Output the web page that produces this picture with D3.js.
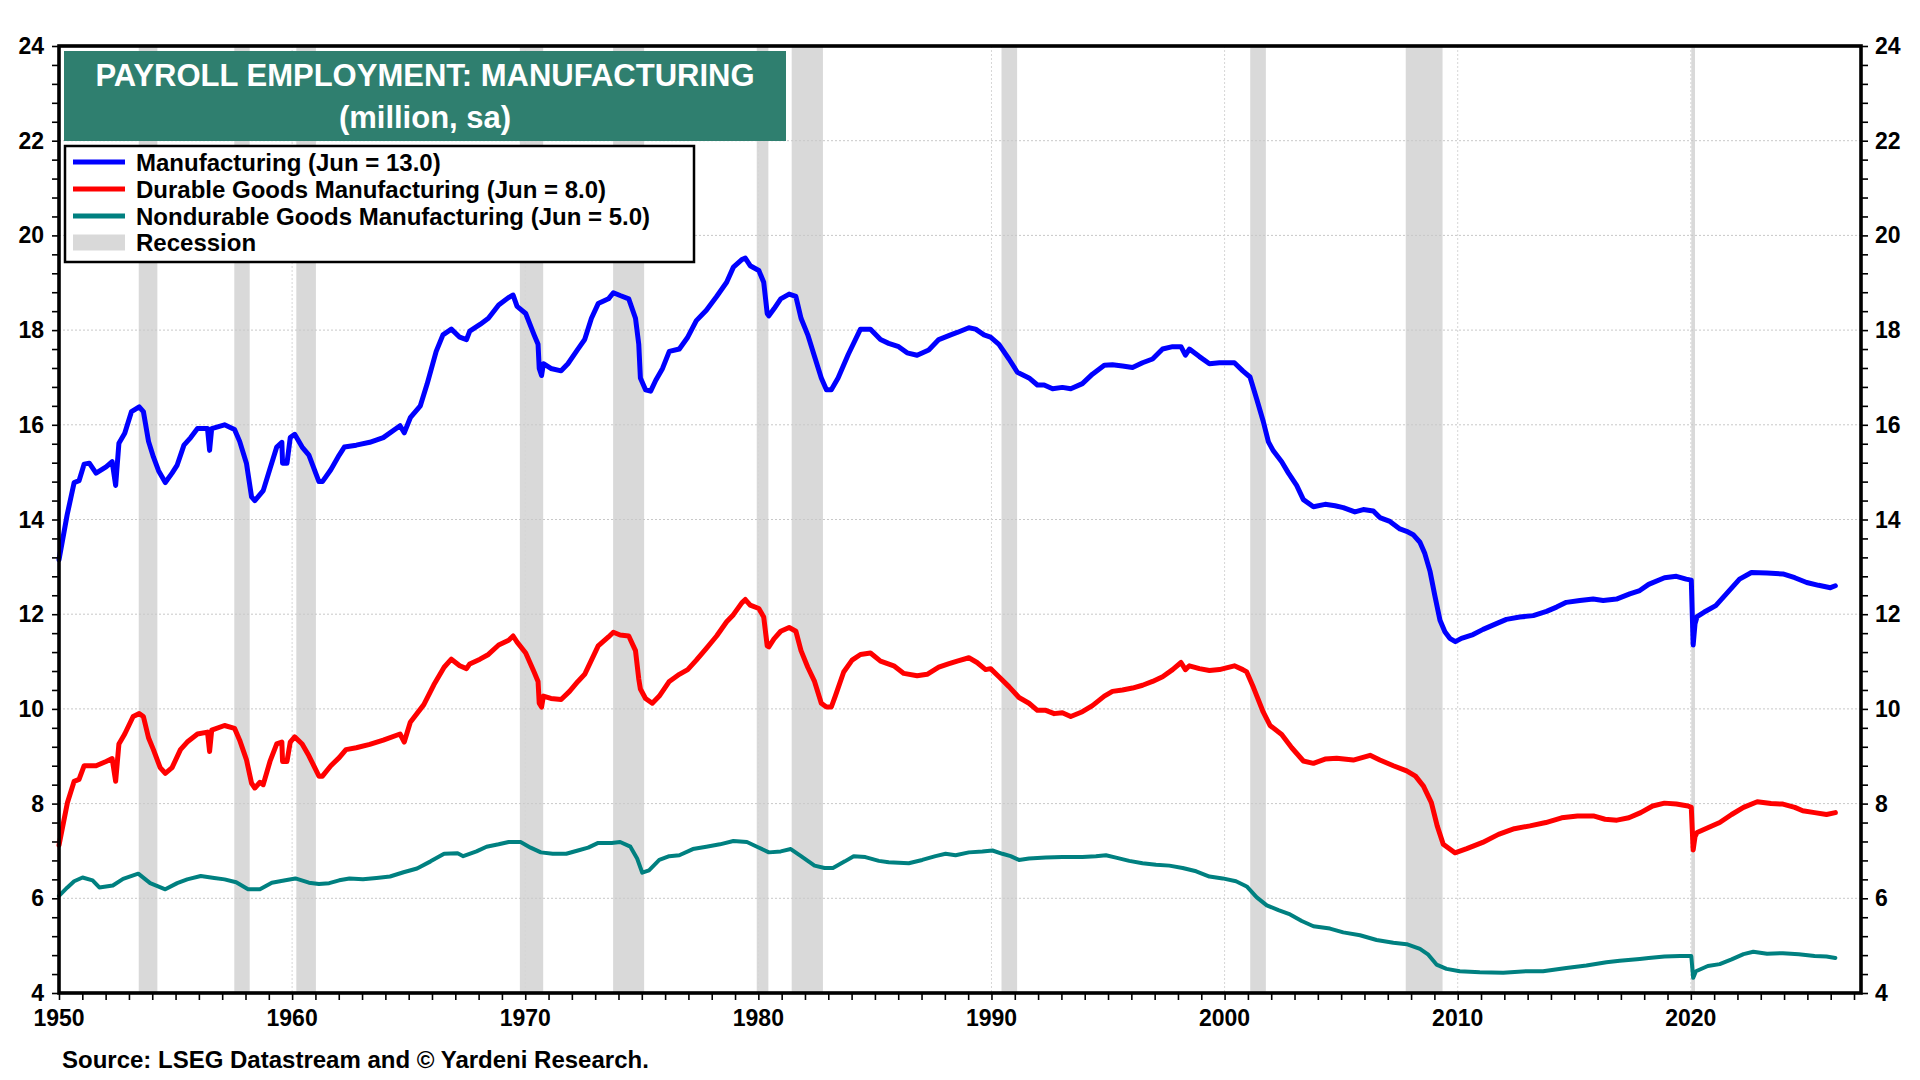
<!DOCTYPE html>
<html>
<head>
<meta charset="utf-8">
<script src="https://cdn.jsdelivr.net/npm/d3@7"></script>
<style>
  html, body { margin: 0; padding: 0; background: #fff; }
  svg { display: block; }
  text { font-family: "Liberation Sans", Arial, Helvetica, sans-serif; font-weight: bold; }
</style>
</head>
<body>
<svg id="chart" width="1920" height="1080"></svg>
<script>
// ---------------- DATA ----------------
const titleLines = ["PAYROLL EMPLOYMENT: MANUFACTURING", "(million, sa)"];
const legendLabels = [
  "Manufacturing (Jun = 13.0)",
  "Durable Goods Manufacturing (Jun = 8.0)",
  "Nondurable Goods Manufacturing (Jun = 5.0)",
  "Recession"
];
const sourceText = "Source: LSEG Datastream and \u00A9 Yardeni Research.";
const xTickYears = [1950, 1960, 1970, 1980, 1990, 2000, 2010, 2020];
const yTickValues = [4, 6, 8, 10, 12, 14, 16, 18, 20, 22, 24];

// Recession bands [start, end] as placed on the chart's time axis
const recessions = [
  [1953.42, 1954.22], [1957.52, 1958.18], [1960.18, 1961.02], [1969.77, 1970.77],
  [1973.77, 1975.1], [1979.93, 1980.43], [1981.43, 1982.77], [1990.43, 1991.1],
  [2001.1, 2001.77], [2007.77, 2009.35], [2020.02, 2020.18]
];

// Manufacturing, million [year, value]
const manufacturing = [
[1950.0,13.15],[1950.35,14.1],[1950.65,14.78],[1950.86,14.82],[1951.08,15.17],[1951.3,15.19],[1951.59,14.98],[1952.02,15.11],[1952.28,15.22],[1952.43,14.72],[1952.57,15.61],[1952.82,15.82],[1953.11,16.28],[1953.44,16.38],[1953.62,16.28],[1953.84,15.65],[1954.05,15.32],[1954.27,15.03],[1954.56,14.78],[1954.85,14.98],[1955.07,15.15],[1955.36,15.57],[1955.65,15.73],[1955.94,15.92],[1956.37,15.92],[1956.46,15.46],[1956.55,15.92],[1957.1,16.0],[1957.53,15.9],[1957.75,15.65],[1958.04,15.19],[1958.26,14.48],[1958.4,14.4],[1958.76,14.61],[1959.05,15.07],[1959.34,15.53],[1959.56,15.63],[1959.59,15.19],[1959.78,15.19],[1959.92,15.73],[1960.11,15.8],[1960.43,15.53],[1960.72,15.36],[1961.15,14.8],[1961.3,14.8],[1961.66,15.05],[1962.02,15.36],[1962.24,15.53],[1962.75,15.57],[1963.33,15.63],[1963.91,15.73],[1964.63,15.98],[1964.81,15.83],[1965.07,16.15],[1965.5,16.4],[1965.79,16.86],[1966.18,17.55],[1966.47,17.9],[1966.83,18.02],[1967.19,17.85],[1967.48,17.8],[1967.62,17.98],[1968.06,18.12],[1968.42,18.25],[1968.86,18.53],[1969.29,18.69],[1969.48,18.74],[1969.65,18.5],[1970.02,18.35],[1970.38,17.9],[1970.55,17.7],[1970.6,17.19],[1970.7,17.04],[1970.78,17.29],[1971.1,17.19],[1971.54,17.14],[1971.83,17.29],[1972.26,17.6],[1972.55,17.8],[1972.84,18.25],[1973.13,18.56],[1973.57,18.66],[1973.78,18.79],[1974.07,18.73],[1974.44,18.66],[1974.73,18.25],[1974.87,17.7],[1974.94,16.99],[1975.16,16.74],[1975.38,16.71],[1975.6,16.94],[1975.89,17.19],[1976.18,17.55],[1976.61,17.6],[1976.97,17.85],[1977.34,18.2],[1977.77,18.42],[1978.21,18.71],[1978.64,19.01],[1978.93,19.33],[1979.29,19.49],[1979.44,19.52],[1979.65,19.36],[1980.02,19.26],[1980.23,19.01],[1980.38,18.35],[1980.45,18.3],[1980.67,18.45],[1980.96,18.66],[1981.32,18.76],[1981.61,18.71],[1981.83,18.25],[1982.12,17.9],[1982.41,17.44],[1982.7,16.99],[1982.92,16.74],[1983.13,16.74],[1983.42,16.99],[1983.86,17.49],[1984.38,18.02],[1984.81,18.02],[1985.24,17.8],[1985.59,17.72],[1986.02,17.65],[1986.38,17.52],[1986.81,17.47],[1987.31,17.58],[1987.74,17.8],[1988.25,17.9],[1988.53,17.95],[1989.03,18.05],[1989.32,18.02],[1989.68,17.9],[1989.96,17.85],[1990.32,17.7],[1990.75,17.39],[1991.11,17.11],[1991.61,16.99],[1991.97,16.84],[1992.26,16.84],[1992.62,16.76],[1993.04,16.79],[1993.4,16.76],[1993.9,16.87],[1994.33,17.07],[1994.84,17.26],[1995.19,17.27],[1995.62,17.24],[1996.05,17.21],[1996.48,17.31],[1996.91,17.39],[1997.34,17.6],[1997.77,17.65],[1998.13,17.65],[1998.32,17.47],[1998.49,17.6],[1998.92,17.44],[1999.35,17.29],[1999.78,17.31],[2000.42,17.31],[2000.78,17.14],[2001.09,17.01],[2001.38,16.54],[2001.66,16.07],[2001.88,15.64],[2002.09,15.45],[2002.45,15.22],[2002.74,14.98],[2003.09,14.72],[2003.38,14.42],[2003.81,14.27],[2004.31,14.32],[2004.74,14.29],[2005.09,14.25],[2005.59,14.16],[2005.95,14.21],[2006.38,14.18],[2006.66,14.04],[2007.09,13.96],[2007.52,13.8],[2007.81,13.75],[2008.09,13.68],[2008.38,13.52],[2008.59,13.28],[2008.81,12.91],[2009.02,12.39],[2009.24,11.87],[2009.45,11.63],[2009.66,11.49],[2009.9,11.42],[2010.16,11.49],[2010.66,11.57],[2011.09,11.68],[2011.66,11.8],[2012.09,11.89],[2012.66,11.94],[2013.24,11.97],[2013.81,12.06],[2014.24,12.15],[2014.66,12.25],[2015.24,12.29],[2015.81,12.32],[2016.24,12.29],[2016.81,12.32],[2017.38,12.43],[2017.81,12.5],[2018.19,12.63],[2018.87,12.77],[2019.38,12.8],[2019.8,12.74],[2020.02,12.72],[2020.1,11.35],[2020.18,11.8],[2020.27,11.95],[2020.56,12.04],[2021.07,12.18],[2021.58,12.46],[2022.09,12.74],[2022.6,12.88],[2023.27,12.87],[2023.95,12.85],[2024.46,12.77],[2024.97,12.67],[2025.48,12.61],[2025.99,12.56],[2026.2,12.6]
];

// Durable goods manufacturing, million
const durable = [
[1950.0,7.12],[1950.36,8.02],[1950.65,8.47],[1950.86,8.51],[1951.08,8.8],[1951.59,8.8],[1952.02,8.89],[1952.28,8.95],[1952.43,8.47],[1952.57,9.26],[1952.82,9.47],[1953.18,9.84],[1953.44,9.9],[1953.62,9.84],[1953.84,9.39],[1954.05,9.14],[1954.34,8.76],[1954.56,8.64],[1954.85,8.76],[1955.21,9.14],[1955.5,9.3],[1955.94,9.47],[1956.37,9.51],[1956.46,9.1],[1956.55,9.55],[1957.1,9.65],[1957.53,9.59],[1957.75,9.34],[1958.04,8.93],[1958.26,8.43],[1958.4,8.33],[1958.62,8.45],[1958.76,8.4],[1959.05,8.89],[1959.34,9.26],[1959.56,9.3],[1959.59,8.89],[1959.78,8.89],[1959.92,9.3],[1960.11,9.41],[1960.43,9.26],[1960.72,9.01],[1961.15,8.58],[1961.3,8.58],[1961.66,8.8],[1962.02,8.97],[1962.31,9.14],[1962.75,9.18],[1963.33,9.25],[1963.91,9.34],[1964.63,9.47],[1964.81,9.3],[1965.07,9.72],[1965.65,10.09],[1966.08,10.51],[1966.52,10.88],[1966.83,11.05],[1967.19,10.91],[1967.48,10.85],[1967.62,10.95],[1968.06,11.05],[1968.42,11.15],[1968.86,11.35],[1969.29,11.45],[1969.48,11.54],[1969.65,11.41],[1970.02,11.18],[1970.38,10.78],[1970.55,10.58],[1970.6,10.12],[1970.7,10.04],[1970.78,10.27],[1971.1,10.22],[1971.54,10.2],[1971.9,10.37],[1972.26,10.58],[1972.55,10.73],[1972.84,11.03],[1973.13,11.33],[1973.57,11.52],[1973.78,11.62],[1974.07,11.56],[1974.44,11.54],[1974.73,11.23],[1974.87,10.63],[1974.94,10.42],[1975.16,10.22],[1975.45,10.12],[1975.75,10.27],[1976.18,10.58],[1976.61,10.73],[1976.97,10.83],[1977.34,11.03],[1977.77,11.28],[1978.21,11.54],[1978.64,11.84],[1978.93,11.99],[1979.29,12.24],[1979.44,12.31],[1979.65,12.19],[1980.02,12.12],[1980.23,11.94],[1980.38,11.33],[1980.45,11.31],[1980.67,11.48],[1980.96,11.64],[1981.32,11.72],[1981.61,11.64],[1981.83,11.23],[1982.12,10.88],[1982.41,10.58],[1982.7,10.12],[1982.92,10.04],[1983.13,10.04],[1983.3,10.27],[1983.66,10.78],[1984.02,11.03],[1984.38,11.15],[1984.81,11.18],[1985.24,11.01],[1985.81,10.91],[1986.24,10.75],[1986.81,10.7],[1987.24,10.73],[1987.74,10.88],[1988.15,10.95],[1988.53,11.01],[1989.03,11.08],[1989.38,10.98],[1989.75,10.83],[1989.96,10.85],[1990.32,10.68],[1990.75,10.47],[1991.18,10.24],[1991.61,10.12],[1991.97,9.97],[1992.33,9.97],[1992.69,9.9],[1993.04,9.92],[1993.4,9.84],[1993.9,9.94],[1994.33,10.07],[1994.84,10.27],[1995.19,10.37],[1995.62,10.4],[1996.05,10.44],[1996.48,10.5],[1996.91,10.58],[1997.34,10.68],[1997.77,10.83],[1998.13,10.98],[1998.32,10.83],[1998.49,10.91],[1998.92,10.85],[1999.35,10.81],[1999.78,10.83],[2000.42,10.91],[2000.78,10.83],[2000.95,10.78],[2001.24,10.45],[2001.66,9.93],[2001.95,9.65],[2002.45,9.46],[2002.88,9.18],[2003.38,8.9],[2003.81,8.85],[2004.31,8.94],[2004.81,8.96],[2005.52,8.92],[2006.24,9.02],[2006.66,8.92],[2007.24,8.8],[2007.81,8.69],[2008.19,8.58],[2008.53,8.37],[2008.87,8.02],[2009.12,7.53],[2009.38,7.14],[2009.88,6.96],[2010.39,7.05],[2011.07,7.18],[2011.75,7.35],[2012.43,7.47],[2013.1,7.53],[2013.78,7.6],[2014.46,7.7],[2015.14,7.74],[2015.82,7.74],[2016.32,7.67],[2016.83,7.65],[2017.34,7.7],[2017.85,7.81],[2018.36,7.95],[2018.87,8.01],[2019.38,7.99],[2019.88,7.95],[2020.02,7.92],[2020.1,7.02],[2020.18,7.3],[2020.27,7.39],[2020.73,7.49],[2021.24,7.6],[2021.75,7.77],[2022.26,7.92],[2022.85,8.04],[2023.44,8.0],[2023.95,7.99],[2024.46,7.92],[2024.8,7.85],[2025.31,7.81],[2025.82,7.77],[2026.2,7.81]
];

// Nondurable goods manufacturing, million
const nondurable = [
[1950.0,6.05],[1950.36,6.23],[1950.65,6.36],[1951.01,6.44],[1951.44,6.38],[1951.73,6.23],[1952.31,6.27],[1952.75,6.41],[1953.4,6.52],[1953.91,6.32],[1954.56,6.19],[1955.07,6.32],[1955.5,6.4],[1956.08,6.47],[1956.66,6.43],[1957.1,6.4],[1957.6,6.34],[1958.11,6.19],[1958.62,6.19],[1959.13,6.33],[1959.71,6.38],[1960.14,6.42],[1960.72,6.33],[1961.15,6.3],[1961.59,6.32],[1962.02,6.38],[1962.46,6.42],[1963.04,6.4],[1963.62,6.43],[1964.2,6.46],[1964.78,6.55],[1965.36,6.63],[1965.94,6.78],[1966.52,6.94],[1967.1,6.95],[1967.34,6.89],[1967.91,6.99],[1968.34,7.09],[1968.86,7.14],[1969.29,7.19],[1969.8,7.19],[1970.23,7.07],[1970.67,6.97],[1971.18,6.94],[1971.76,6.94],[1972.26,7.01],[1972.7,7.07],[1973.13,7.17],[1973.71,7.17],[1974.07,7.19],[1974.51,7.09],[1974.8,6.84],[1975.02,6.54],[1975.31,6.59],[1975.75,6.81],[1976.18,6.89],[1976.61,6.91],[1977.19,7.04],[1977.77,7.09],[1978.35,7.14],[1978.93,7.21],[1979.51,7.19],[1979.94,7.09],[1980.45,6.97],[1980.96,6.99],[1981.39,7.04],[1981.83,6.89],[1982.41,6.69],[1982.84,6.64],[1983.2,6.64],[1983.71,6.78],[1984.09,6.89],[1984.59,6.87],[1985.17,6.79],[1985.59,6.76],[1986.45,6.74],[1987.03,6.81],[1987.6,6.89],[1988.03,6.94],[1988.46,6.91],[1989.03,6.97],[1989.61,6.99],[1990.04,7.01],[1990.47,6.94],[1990.82,6.89],[1991.18,6.81],[1991.61,6.84],[1992.33,6.86],[1993.04,6.87],[1993.9,6.87],[1994.48,6.89],[1994.91,6.91],[1995.34,6.86],[1995.91,6.79],[1996.48,6.74],[1997.06,6.71],[1997.63,6.69],[1998.2,6.64],[1998.78,6.57],[1999.35,6.46],[1999.92,6.42],[2000.49,6.36],[2000.95,6.25],[2001.38,6.02],[2001.81,5.85],[2002.31,5.75],[2002.81,5.66],[2003.31,5.52],[2003.81,5.41],[2004.52,5.36],[2005.09,5.28],[2005.81,5.22],[2006.52,5.12],[2007.24,5.06],[2007.81,5.03],[2008.38,4.93],[2008.74,4.81],[2009.09,4.6],[2009.52,4.51],[2010.09,4.46],[2010.95,4.44],[2011.95,4.43],[2012.95,4.46],[2013.66,4.46],[2014.66,4.53],[2015.52,4.58],[2016.38,4.65],[2016.95,4.68],[2017.81,4.72],[2018.19,4.74],[2018.87,4.77],[2019.54,4.78],[2020.02,4.78],[2020.1,4.32],[2020.22,4.46],[2020.73,4.57],[2021.24,4.61],[2021.75,4.71],[2022.26,4.82],[2022.68,4.87],[2023.27,4.83],[2023.95,4.84],[2024.63,4.82],[2025.31,4.78],[2025.82,4.77],[2026.2,4.74]
];

const seriesColors = ["#0000ff", "#ff0000", "#008080"];

// ---------------- CHART ----------------
const svg = d3.select("#chart");
const plot = { left: 59, right: 1861, top: 46, bottom: 993 };

const x = d3.scaleLinear().domain([1950, 2027.3]).range([plot.left, plot.right]);
const y = d3.scaleLinear().domain([4, 24]).range([plot.bottom, plot.top]);

// Recession bands
svg.append("g").selectAll("rect").data(recessions).join("rect")
  .attr("x", d => x(d[0]))
  .attr("width", d => Math.max(2, x(d[1]) - x(d[0])))
  .attr("y", plot.top)
  .attr("height", plot.bottom - plot.top)
  .attr("fill", "#d9d9d9");

// Gridlines
const grid = svg.append("g");
grid.selectAll("line.h").data(yTickValues.filter(v => v > 4 && v < 24)).join("line")
  .attr("x1", plot.left).attr("x2", plot.right)
  .attr("y1", d => y(d)).attr("y2", d => y(d))
  .attr("stroke", "#c8c8c8").attr("stroke-width", 1).attr("stroke-dasharray", "2,2");
grid.selectAll("line.v").data(xTickYears.filter(v => v > 1950)).join("line")
  .attr("x1", d => x(d)).attr("x2", d => x(d))
  .attr("y1", plot.top).attr("y2", plot.bottom)
  .attr("stroke", "#d6d6d6").attr("stroke-width", 1).attr("stroke-dasharray", "2,2");

// Lines
const line = d3.line().x(d => x(d[0])).y(d => y(d[1])).curve(d3.curveLinear);
const allSeries = [manufacturing, durable, nondurable];
const widths = [5, 5, 4];
svg.append("g").selectAll("path").data(allSeries).join("path")
  .attr("d", d => line(d))
  .attr("fill", "none")
  .attr("stroke", (d, i) => seriesColors[i])
  .attr("stroke-width", (d, i) => widths[i])
  .attr("stroke-linejoin", "round")
  .attr("stroke-linecap", "round");

// Axes
const minorY = d3.range(4, 24.001, 0.4);
const leftAxis = d3.axisLeft(y).tickValues(minorY).tickSize(7).tickFormat("");
const rightAxis = d3.axisRight(y).tickValues(minorY).tickSize(7).tickFormat("");
const yearTicks = d3.range(1950, 2028, 1);
const bottomAxis = d3.axisBottom(x).tickValues(yearTicks).tickSize(7).tickFormat("");

function styleAxis(g) {
  g.select(".domain").remove();
  g.selectAll(".tick line").attr("stroke", "#000").attr("stroke-width", 1.6);
}
svg.append("g").attr("transform", `translate(${plot.left},0)`).call(leftAxis).call(styleAxis);
svg.append("g").attr("transform", `translate(${plot.right},0)`).call(rightAxis).call(styleAxis);
svg.append("g").attr("transform", `translate(0,${plot.bottom})`).call(bottomAxis).call(styleAxis);

// Frame
svg.append("rect")
  .attr("x", plot.left).attr("y", plot.top)
  .attr("width", plot.right - plot.left).attr("height", plot.bottom - plot.top)
  .attr("fill", "none").attr("stroke", "#000").attr("stroke-width", 3.6);

// Y labels
svg.append("g").selectAll("text").data(yTickValues).join("text")
  .attr("x", 44).attr("y", d => y(d) + 8)
  .attr("text-anchor", "end").attr("font-size", 23).attr("fill", "#000")
  .text(d => d);
svg.append("g").selectAll("text").data(yTickValues).join("text")
  .attr("x", 1875).attr("y", d => y(d) + 8)
  .attr("text-anchor", "start").attr("font-size", 23).attr("fill", "#000")
  .text(d => d);

// X labels
svg.append("g").selectAll("text").data(xTickYears).join("text")
  .attr("x", d => x(d)).attr("y", 1026)
  .attr("text-anchor", "middle").attr("font-size", 23).attr("fill", "#000")
  .text(d => d);

// Title box
svg.append("rect").attr("x", 64).attr("y", 51).attr("width", 722).attr("height", 90).attr("fill", "#2f7f6f");
svg.append("g").selectAll("text").data(titleLines).join("text")
  .attr("x", 425).attr("y", (d, i) => i === 0 ? 86 : 128)
  .attr("text-anchor", "middle").attr("font-size", 31).attr("fill", "#fff")
  .text(d => d);

// Legend
const lg = svg.append("g");
lg.append("rect").attr("x", 65).attr("y", 146).attr("width", 629).attr("height", 116)
  .attr("fill", "#fff").attr("stroke", "#000").attr("stroke-width", 2.5);
const rowY = [162, 189, 216, 242.5];
legendLabels.forEach((lab, i) => {
  if (i < 3) {
    lg.append("line").attr("x1", 73).attr("x2", 125).attr("y1", rowY[i]).attr("y2", rowY[i])
      .attr("stroke", seriesColors[i]).attr("stroke-width", 5);
  } else {
    lg.append("rect").attr("x", 73).attr("y", rowY[i] - 8).attr("width", 52).attr("height", 16)
      .attr("fill", "#d9d9d9");
  }
  lg.append("text").attr("x", 136).attr("y", rowY[i] + 8.5)
    .attr("font-size", 24).attr("fill", "#000").text(lab);
});

// Source
svg.append("text").attr("x", 62).attr("y", 1068).attr("font-size", 24).attr("fill", "#000").text(sourceText);
</script>
</body>
</html>
